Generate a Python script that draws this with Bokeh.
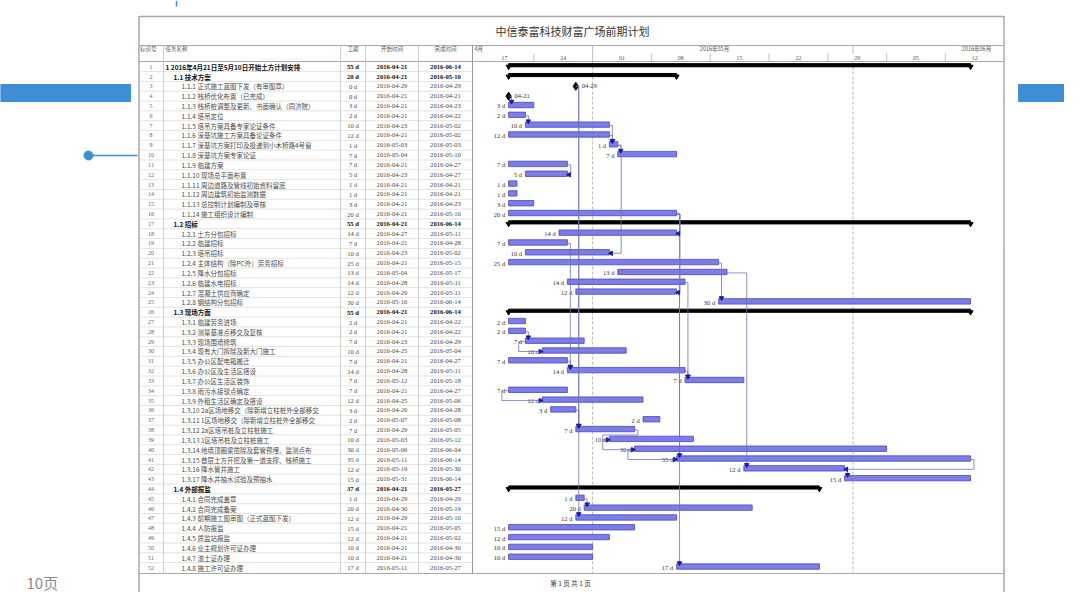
import math
import pandas as pd
from bokeh.plotting import figure
from bokeh.models import Range1d, ColumnDataSource
from bokeh.core.properties import value
from bokeh.embed import file_html
from bokeh.resources import INLINE

# ---------------- data ----------------
title = "中信泰富科技财富广场前期计划"
names = [
    "1 2016年4月21日至5月10日开始土方计划安排",
    "1.1  技术方案",
    "1.1.1  正式施工蓝图下发（有审图章）",
    "1.1.2  栈桥优化布置（已完成）",
    "1.1.3  栈桥桩调整及更新、书面确认（同济院）",
    "1.1.4  塔吊定位",
    "1.1.5  塔吊方案具备专家论证条件",
    "1.1.6  深基坑施工方案具备论证条件",
    "1.1.7  深基坑方案打印及投递到小木桥路4号窗",
    "1.1.8  深基坑方案专家论证",
    "1.1.9  临建方案",
    "1.1.10  现场总平面布置",
    "1.1.11 周边道路及管线初始资料留底",
    "1.1.12 周边建筑初始监测数据",
    "1.1.13 总控制计划编制及审核",
    "1.1.14 施工组织设计编制",
    "1.2 招标",
    "1.2.1  土方分包招标",
    "1.2.2  临建招标",
    "1.2.3  塔吊招标",
    "1.2.4  主体结构（除PC外）劳务招标",
    "1.2.5  降水分包招标",
    "1.2.6  临建水电招标",
    "1.2.7  混凝土供应商确定",
    "1.2.8  钢结构分包招标",
    "1.3  现场方面",
    "1.3.1  临建劳务进场",
    "1.3.2  测量基准点移交及复核",
    "1.3.3  现场围墙修筑",
    "1.3.4  现有大门拆除及新大门施工",
    "1.3.5  办公区配电箱搬迁",
    "1.3.6  办公区及生活区搭设",
    "1.3.7  办公区生活区装饰",
    "1.3.8  雨污水接驳点确定",
    "1.3.9  外租生活区确定及搭设",
    "1.3.10 2a区场地移交（除新增立柱桩外全部移交",
    "1.3.11  1区场地移交（除新增立柱桩外全部移交",
    "1.3.12  2a区塔吊桩及立柱桩施工",
    "1.3.13  1区塔吊桩及立柱桩施工",
    "1.3.14  地墙顶圈梁凿除及套管预埋、监测点布",
    "1.3.15  首层土方开挖及第一道支撑、栈桥施工",
    "1.3.16  降水管井施工",
    "1.3.17  降水井抽水试验及预抽水",
    "1.4 外部报监",
    "1.4.1  合同完成盖章",
    "1.4.2  合同完成备案",
    "1.4.3  前期施工图审图（正式蓝图下发）",
    "1.4.4  人防报监",
    "1.4.5  质监站报监",
    "1.4.6  业主规划许可证办理",
    "1.4.7  渣土证办理",
    "1.4.8  施工许可证办理",
]
levels = [0, 1] + [2] * 14 + [1] + [2] * 8 + [1] + [2] * 17 + [1] + [2] * 8
durations = [55, 20, 0, 0, 3, 2, 10, 12, 1, 7, 7, 5, 1, 1, 3, 20,
             55, 14, 7, 10, 25, 13, 14, 12, 30,
             55, 2, 2, 7, 10, 7, 14, 7, 7, 12, 3, 2, 7, 10, 30, 35, 12, 15,
             37, 1, 20, 12, 15, 12, 10, 10, 17]
starts = ["2016-04-21", "2016-04-21", "2016-04-29", "2016-04-21", "2016-04-21", "2016-04-21",
          "2016-04-23", "2016-04-21", "2016-05-03", "2016-05-04", "2016-04-21", "2016-04-23",
          "2016-04-21", "2016-04-21", "2016-04-21", "2016-04-21",
          "2016-04-21", "2016-04-27", "2016-04-21", "2016-04-23", "2016-04-21", "2016-05-04",
          "2016-04-28", "2016-04-29", "2016-05-16",
          "2016-04-21", "2016-04-21", "2016-04-21", "2016-04-23", "2016-04-25", "2016-04-21",
          "2016-04-28", "2016-05-12", "2016-04-21", "2016-04-25", "2016-04-26", "2016-05-07",
          "2016-04-29", "2016-05-03", "2016-05-06", "2016-05-11", "2016-05-19", "2016-05-31",
          "2016-04-21", "2016-04-29", "2016-04-30", "2016-04-29", "2016-04-21", "2016-04-21",
          "2016-04-21", "2016-04-21", "2016-05-11"]
finishes = ["2016-06-14", "2016-05-10", "2016-04-29", "2016-04-21", "2016-04-23", "2016-04-22",
            "2016-05-02", "2016-05-02", "2016-05-03", "2016-05-10", "2016-04-27", "2016-04-27",
            "2016-04-21", "2016-04-21", "2016-04-23", "2016-05-10",
            "2016-06-14", "2016-05-11", "2016-04-28", "2016-05-02", "2016-05-15", "2016-05-17",
            "2016-05-11", "2016-05-11", "2016-06-14",
            "2016-06-14", "2016-04-22", "2016-04-22", "2016-04-29", "2016-05-04", "2016-04-27",
            "2016-05-11", "2016-05-18", "2016-04-27", "2016-05-06", "2016-04-28", "2016-05-08",
            "2016-05-05", "2016-05-12", "2016-06-04", "2016-06-14", "2016-05-30", "2016-06-14",
            "2016-05-27", "2016-04-29", "2016-05-19", "2016-05-10", "2016-05-05", "2016-05-02",
            "2016-04-30", "2016-04-30", "2016-05-27"]
summary_rows = [1, 2, 17, 26, 44]
# (predecessor row, successor row, link type)
links = [(4, 5, "FS"), (6, 7, "FS"), (7, 9, "FS"), (8, 9, "FS"), (9, 10, "FS"), (11, 12, "FF"),
         (16, 18, "FF"), (9, 20, "FF"), (19, 32, "FS"), (31, 32, "FS"), (3, 38, "FS"), (3, 47, "FS"),
         (16, 24, "FF"), (16, 52, "FS"), (21, 25, "FS"), (22, 42, "FS"), (23, 33, "FS"), (32, 33, "FS"),
         (24, 41, "FS"), (28, 29, "FS"), (29, 30, "SS"), (34, 35, "SS"), (36, 38, "FS"), (38, 39, "FS"),
         (39, 40, "SS"), (40, 41, "SS"), (41, 42, "FF"), (42, 43, "FS"), (45, 46, "FS")]
week_starts = ["2016-04-17", "2016-04-24", "2016-05-01", "2016-05-08", "2016-05-15",
               "2016-05-22", "2016-05-29", "2016-06-05", "2016-06-12"]
week_labels = ["17", "24", "01", "08", "15", "22", "29", "05", "12"]
month_starts = ["2016-05-01", "2016-06-01"]
col_headers = ["标识号", "任务名称", "工期", "开始时间", "完成时间"]
month_labels = ["4月", "2016年05月", "2016年06月"]
footer = "第 1 页 共 1 页"
page_label = "10页"

# ---------------- layout helpers (reference pixel -> data units) ----------------
BASE = pd.Timestamp("2016-04-17")
GX0, DPX = 474.5, 8.4        # pixel of base date, pixels per day
RY1, RPX = 66.2, 9.82        # pixel centre of row 1, pixels per row
W, H = 1064, 592


def X(px):
    return (px - GX0) / DPX


def Y(py):
    return (py - RY1) / RPX + 1


def day(s):
    return (pd.Timestamp(s) - BASE).days


CJK = value("Noto Sans CJK SC")
SERIF = value("Liberation Serif")

p = figure(width=W, height=H, x_range=Range1d(X(0), X(W)), y_range=Range1d(Y(H), Y(0)),
           output_backend="svg", toolbar_location=None, min_border=0)
p.axis.visible = False
p.grid.visible = False
p.outline_line_color = None
p.background_fill_color = "white"

# ---------------- slide decoration ----------------
BLUE = "#3d8ed3"
p.quad(left=X(0), right=X(130), top=Y(84), bottom=Y(101), color=BLUE)
p.quad(left=X(1018), right=X(W), top=Y(84), bottom=Y(101), color=BLUE)
p.line([X(88), X(137)], [Y(155), Y(155)], color=BLUE, line_width=1.5)
p.scatter([X(88)], [Y(155)], size=9, color=BLUE)
p.line([X(176), X(176)], [Y(0), Y(6)], color=BLUE, line_width=1.5)
p.text([X(26)], [Y(582)], text=[page_label], text_font=CJK, text_font_size="15px",
       text_color="#8a8a8a", text_baseline="middle")

# ---------------- frame & grid ----------------
FRAME = "#a8a8a8"
p.line([X(138.5), X(138.5), X(1003.5), X(1003.5)], [Y(H + 2), Y(16), Y(16), Y(H + 2)],
       color=FRAME, line_width=1.5)
for yy in (45, 61, 573):
    p.line([X(138.5), X(1003.5)], [Y(yy), Y(yy)], color=FRAME, line_width=1)
nrows = len(names)
row_idx = list(range(1, nrows + 1))
p.multi_line([[X(138.5), X(472)] for r in row_idx[:-1]],
             [[r + 0.5, r + 0.5] for r in row_idx[:-1]], color="#d0d0d0", line_width=0.6)
for xx in (163, 340, 365, 418):
    p.line([X(xx), X(xx)], [Y(45), Y(573)], color="#c0c0c0", line_width=0.8)
p.line([X(472), X(472)], [Y(45), Y(573)], color="#999999", line_width=1)

# month boundary dashed lines in gantt body and header ticks
mdays = [day(m) for m in month_starts]
p.multi_line([[d, d] for d in mdays], [[Y(61), Y(573)] for d in mdays],
             color="#b8b8b8", line_width=1, line_dash="3 2")
p.multi_line([[d, d] for d in mdays], [[Y(45), Y(53)] for d in mdays], color="#b0b0b0", line_width=0.8)
wdays = [day(w) for w in week_starts]
p.multi_line([[d + 7, d + 7] for d in wdays[:-1]], [[Y(53), Y(61)] for d in wdays[:-1]],
             color="#b0b0b0", line_width=0.8)

# ---------------- header texts ----------------
p.text([X(572)], [Y(30)], text=[title], text_font=CJK, text_font_size="11px", text_color="#333333",
       text_align="center", text_baseline="middle")
p.text([X(139.5), X(165)], [Y(48.5)] * 2, text=col_headers[:2], text_font=CJK, text_font_size="5.5px",
       text_color="#555555", text_baseline="middle")
p.text([X(352.5), X(391.5), X(445)], [Y(48.5)] * 3, text=col_headers[2:], text_font=CJK,
       text_font_size="5.5px", text_color="#555555", text_align="center", text_baseline="middle")
p.text([X(474)], [Y(48.5)], text=[month_labels[0]], text_font=CJK, text_font_size="5.5px",
       text_color="#555555", text_baseline="middle")
p.text([X(714), X(976)], [Y(48.5)] * 2, text=month_labels[1:], text_font=CJK, text_font_size="5.5px",
       text_color="#555555", text_align="center", text_baseline="middle")
p.text([d + 3.5 for d in wdays], [Y(57.5)] * len(wdays), text=week_labels, text_font=SERIF,
       text_font_size="6px", text_color="#555555", text_align="center", text_baseline="middle")
p.text([X(570)], [Y(582)], text=[footer], text_font=CJK, text_font_size="6.5px",
       text_color="#333333", text_align="center", text_baseline="middle")

# ---------------- table ----------------
is_sum = [r in summary_rows for r in row_idx]
tbl = ColumnDataSource(dict(
    y=row_idx,
    ids=[str(r) for r in row_idx],
    name=names,
    nx=[X(165 + 8 * lv) for lv in levels],
    dur=[f"{d} d" for d in durations],
    st=starts, fi=finishes,
    style=["bold" if s else "normal" for s in is_sum],
    color=["#111111" if s else "#4a4a4a" for s in is_sum],
))
p.text(x=X(150.5), y="y", text="ids", source=tbl, text_font=SERIF, text_font_size="6px",
       text_color="#666666", text_align="center", text_baseline="middle")
p.text(x="nx", y="y", text="name", source=tbl, text_font=CJK, text_font_size="6.5px",
       text_font_style="style", text_color="color", text_baseline="middle")
for col, cx in (("dur", 352.5), ("st", 391.5), ("fi", 445)):
    p.text(x=X(cx), y="y", text=col, source=tbl, text_font=SERIF, text_font_size="6.6px",
           text_font_style="style", text_color="color", text_align="center", text_baseline="middle")

# ---------------- gantt ----------------
sdays = [day(s) for s in starts]
edays = [s + d for s, d in zip(sdays, durations)]
task_rows = [r for r in row_idx if r not in summary_rows and durations[r - 1] > 0]
ms_rows = [r for r in row_idx if durations[r - 1] == 0]

tasks = ColumnDataSource(dict(
    y=[r - 0.1 for r in task_rows],
    yl=task_rows,
    left=[sdays[r - 1] for r in task_rows],
    right=[edays[r - 1] for r in task_rows],
    lx=[sdays[r - 1] - 0.4 for r in task_rows],
    lab=[f"{durations[r - 1]} d" for r in task_rows],
))
p.hbar(y="y", left="left", right="right", height=0.55, source=tasks,
       fill_color="#7d7de6", line_color="#4848c0", line_width=0.8)
p.text(x="lx", y="yl", text="lab", source=tasks, text_font=SERIF, text_font_size="6.5px",
       text_color="#333333", text_align="right", text_baseline="middle")

sums = ColumnDataSource(dict(
    y=[r - 0.15 for r in summary_rows],
    left=[sdays[r - 1] for r in summary_rows],
    right=[edays[r - 1] for r in summary_rows],
))
p.hbar(y="y", left="left", right="right", height=0.32, source=sums, color="black")
p.scatter([sdays[r - 1] for r in summary_rows] + [edays[r - 1] for r in summary_rows],
          [r for r in summary_rows] * 2, marker="inverted_triangle", size=5, color="black")

p.scatter([sdays[r - 1] for r in ms_rows], ms_rows, marker="diamond", size=8, color="black")
p.text([sdays[r - 1] + 0.7 for r in ms_rows], ms_rows, text=[starts[r - 1][5:] for r in ms_rows],
       text_font=SERIF, text_font_size="6.5px", text_color="#333333", text_baseline="middle")

# ---------------- dependency links ----------------
lx, ly = [], []
down_x, down_y, right_x, right_y, left_x, left_y = [], [], [], [], [], []
for a, b, kind in links:
    ps, pe = sdays[a - 1], edays[a - 1]
    ss, se = sdays[b - 1], edays[b - 1]
    if kind == "FS":
        if ss >= pe:
            xv = ss + 0.35
            lx.append([pe, xv, xv]); ly.append([a, a, b - 0.4])
            down_x.append(xv); down_y.append(b - 0.45)
        else:
            lx.append([pe, pe + 0.4, pe + 0.4, ss - 0.8, ss - 0.8, ss])
            ly.append([a, a, a + 0.5, a + 0.5, b, b])
            right_x.append(ss - 0.2); right_y.append(b)
    elif kind == "FF":
        xv = max(pe, se) + 0.4
        lx.append([pe, xv, xv, se]); ly.append([a, a, b, b])
        left_x.append(se + 0.2); left_y.append(b)
    else:  # SS
        xv = min(ps, ss) - 0.8
        lx.append([ps, xv, xv, ss]); ly.append([a, a, b, b])
        right_x.append(ss - 0.2); right_y.append(b)
p.multi_line(lx, ly, color="#7272b8", line_width=0.8)
ARW = "#1c1ca6"
p.scatter(down_x, down_y, marker="inverted_triangle", size=4.5, color=ARW)
p.scatter(right_x, right_y, marker="triangle", angle=-math.pi / 2, size=4.5, color=ARW)
p.scatter(left_x, left_y, marker="triangle", angle=math.pi / 2, size=4.5, color=ARW)

open("out.html", "w").write(file_html(p, INLINE))
